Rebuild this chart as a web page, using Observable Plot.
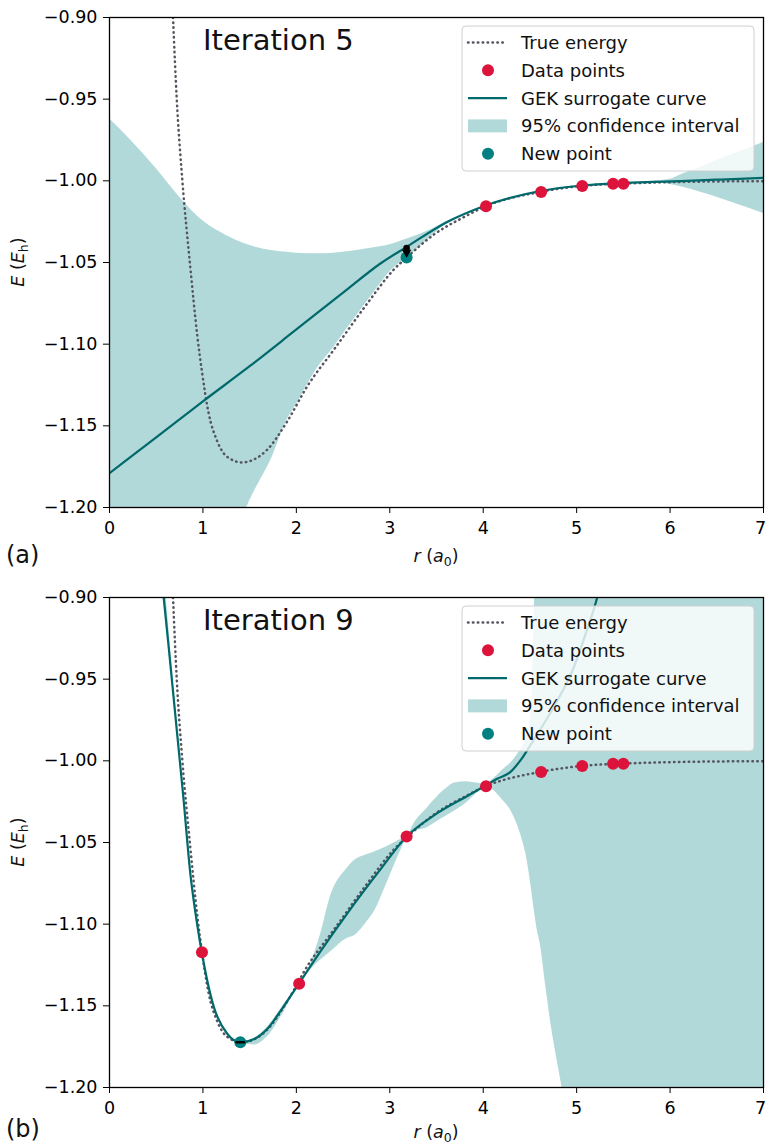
<!DOCTYPE html>
<html><head><meta charset="utf-8">
<script src="https://cdn.jsdelivr.net/npm/d3@7"></script>
<script src="https://cdn.jsdelivr.net/npm/@observablehq/plot@0.6"></script>
<style>body{margin:0;background:#fff;} svg{display:block;}</style>
</head><body><div id="chart"></div>
<script>
// ---------- data ----------
const xTicks = [0, 1, 2, 3, 4, 5, 6, 7];
const yTicks = [-1.20, -1.15, -1.10, -1.05, -1.00, -0.95, -0.90];
const legendLabels = ["True energy", "Data points", "GEK surrogate curve", "95% confidence interval", "New point"];
const panelTitles = ["Iteration 5", "Iteration 9"];
const panelLabels = ["(a)", "(b)"];

// True energy (dotted), same in both panels
const trueR = [0.64, 0.68, 0.72, 0.78, 0.86, 0.94, 0.99, 1.06, 1.15, 1.26, 1.42, 1.55, 1.69, 1.90, 2.12, 2.40, 2.76, 3.04, 3.19, 3.47, 3.80, 4.03, 4.62, 5.06, 5.50, 6.00, 7.00];
const trueE = [-0.84, -0.90, -0.95, -1.00, -1.05, -1.095, -1.117, -1.142, -1.159, -1.169, -1.1724, -1.1705, -1.1645, -1.1475, -1.1255, -1.1035, -1.075, -1.0545, -1.0465, -1.033, -1.022, -1.0155, -1.0067, -1.0031, -1.0017, -1.0008, -1.0002];

// Panel (a): iteration 5
const gekA_R = [0, 0.5, 1.0, 1.5, 2.0, 2.5, 2.9, 3.17, 3.61, 4.02, 4.61, 5.04, 5.40, 5.50, 6.11, 6.50, 7.00];
const gekA_E = [-1.179, -1.157, -1.135, -1.1135, -1.091, -1.0685, -1.0506, -1.0408, -1.0253, -1.0152, -1.0062, -1.0030, -1.0015, -1.0013, -1.0002, -0.9993, -0.9982];
const bandA_R  = [0, 0.25, 0.5, 0.78, 1.0, 1.25, 1.47, 1.75, 1.90, 2.0, 2.12, 2.22, 2.40, 2.5, 2.76, 3.04, 3.19, 3.47, 3.60, 3.80, 4.03, 4.50, 5.00, 5.50, 5.80, 6.00, 6.14, 6.30, 6.50, 6.75, 7.00];
const bandA_hi = [-0.962, -0.9765, -0.9925, -1.012, -1.0245, -1.0335, -1.039, -1.0428, -1.0438, -1.0444, -1.0446, -1.0447, -1.0443, -1.0438, -1.0416, -1.0385, -1.0355, -1.029, -1.025, -1.0203, -1.0148, -1.0085, -1.0028, -1.0012, -1.0002, -0.999, -0.9957, -0.9925, -0.9876, -0.982, -0.9765];
const bandA_lo = [-1.38, -1.36, -1.33, -1.30, -1.27, -1.235, -1.20, -1.168, -1.1465, -1.137, -1.1245, -1.115, -1.102, -1.094, -1.0738, -1.0535, -1.0468, -1.0328, -1.0266, -1.021, -1.0156, -1.0089, -1.0034, -1.0018, -1.001, -1.0022, -1.004, -1.0065, -1.010, -1.015, -1.020];
const dataA_R = [4.03, 4.62, 5.06, 5.39, 5.50];
const dataA_E = [-1.0155, -1.0068, -1.0032, -1.0018, -1.0018];
const newA_R = [3.18];
const newA_E = [-1.047];
const markA_R = [3.18];
const markA_E = [-1.0412];
const markA_arrowE = [-1.0438];

// Panel (b): iteration 9
const gekB_R = [0.55, 0.58, 0.65, 0.72, 0.79, 0.867, 0.938, 0.99, 1.117, 1.26, 1.40, 1.55, 1.688, 1.85, 2.027, 2.26, 2.544, 2.90, 3.18, 3.47, 3.83, 4.025, 4.15, 4.29, 4.42, 4.54, 4.755, 4.97, 5.11, 5.22, 5.30];
const gekB_E = [-0.885, -0.900, -0.940, -0.981, -1.022, -1.070, -1.100, -1.118, -1.1508, -1.1671, -1.1723, -1.1703, -1.1642, -1.1515, -1.1365, -1.1165, -1.0935, -1.0665, -1.0463, -1.0335, -1.0215, -1.0151, -1.011, -1.0069, -0.998, -0.9873, -0.967, -0.9427, -0.920, -0.900, -0.880];
const bandB_R  = [0.55, 0.58, 0.62, 0.66, 0.72, 0.79, 0.87, 0.99, 1.12, 1.26, 1.40, 1.55, 1.69, 1.85, 2.03, 2.13, 2.26, 2.365, 2.544, 2.615, 2.758, 2.829, 2.972, 3.115, 3.19, 3.257, 3.40, 3.47, 3.614, 3.685, 3.828, 3.864, 3.95, 4.03, 4.10, 4.20, 4.30, 4.40, 4.47, 4.52, 4.55, 4.58, 4.61, 4.67, 4.73, 4.79, 4.84, 4.90, 5.00, 5.50, 6.00, 7.00];
const bandB_hi = [-0.865, -0.882, -0.908, -0.936, -0.976, -1.020, -1.070, -1.117, -1.150, -1.1665, -1.1721, -1.1698, -1.163, -1.1505, -1.136, -1.127, -1.106, -1.083, -1.0657, -1.0613, -1.0574, -1.0559, -1.0525, -1.0482, -1.046, -1.0386, -1.029, -1.0243, -1.0165, -1.0137, -1.0128, -1.0131, -1.0138, -1.015, -1.0115, -1.006, -1.001, -0.993, -0.985, -0.965, -0.90, -0.82, -0.75, -0.70, -0.65, -0.60, -0.55, -0.50, -0.45, -0.30, -0.20, 0.0];
const bandB_lo = [-0.888, -0.903, -0.925, -0.947, -0.982, -1.023, -1.072, -1.119, -1.152, -1.1675, -1.1725, -1.174, -1.169, -1.1555, -1.137, -1.1295, -1.122, -1.117, -1.1087, -1.1073, -1.0984, -1.0929, -1.0745, -1.0552, -1.0466, -1.0435, -1.041, -1.0385, -1.0335, -1.031, -1.0253, -1.0235, -1.019, -1.0152, -1.0175, -1.0235, -1.031, -1.045, -1.061, -1.080, -1.093, -1.104, -1.112, -1.138, -1.163, -1.183, -1.199, -1.225, -1.26, -1.45, -1.65, -2.0];
const dataB_R = [0.99, 2.03, 3.18, 4.03, 4.62, 5.06, 5.39, 5.50];
const dataB_E = [-1.1172, -1.1365, -1.0463, -1.0155, -1.0068, -1.0032, -1.0018, -1.0018];
const newB_R = [1.40];
const newB_E = [-1.1723];
const markB_R = [1.36, 1.44];
const markB_E = [-1.1723, -1.1723];

// ---------- styles ----------
const FF = "DejaVu Sans";
const C = {dot: "#555560", gek: "#00696b", teal: "#008080", red: "crimson"};
const rows = (xs, ys) => xs.map((x, i) => ({x, y: ys[i]}));
const bandRows = (xs, lo, hi) => xs.map((x, i) => ({x, lo: lo[i], hi: hi[i]}));
const dotted = {stroke: C.dot, strokeWidth: 2.5, strokeDasharray: "0.5,4.4", strokeLinecap: "round"};

function panel({height, top, bottom, band, gek, data, neu, extra}) {
  return Plot.plot({
    width: 766, height,
    marginLeft: 109, marginRight: 3, marginTop: top, marginBottom: bottom,
    style: {fontFamily: FF, fontSize: "17.5px", color: "black", background: "white", overflow: "visible"},
    x: {domain: [0, 7], ticks: xTicks, tickFormat: "d", tickSize: 6, tickPadding: 8, label: null},
    y: {domain: [-1.2, -0.9], ticks: yTicks, tickFormat: d3.format(".2f"), tickSize: 6, tickPadding: 6, label: null},
    marks: [
      Plot.areaY(band, {x: "x", y1: "lo", y2: "hi", fill: C.teal, fillOpacity: 0.3, curve: "monotone-x", clip: true}),
      Plot.line(rows(trueR, trueE), {x: "x", y: "y", ...dotted, curve: "monotone-x", clip: true}),
      Plot.line(gek, {x: "x", y: "y", stroke: C.gek, strokeWidth: 2.2, curve: "monotone-x", clip: true}),
      Plot.dot(data, {x: "x", y: "y", r: 6, fill: C.red, stroke: null}),
      Plot.dot(neu, {x: "x", y: "y", r: 6, fill: C.teal, stroke: null}),
      ...extra,
      Plot.frame({stroke: "black", strokeWidth: 1.3})
    ]
  });
}

function decorate(svg, {title, top, xLabelY, panelLabel, panelY, yLabelCY}) {
  const s = d3.select(svg);
  // keep the last x tick label ("7") inside the page
  s.selectAll('g[aria-label="x-axis tick label"] text')
    .filter(function () { return this.textContent === "7"; })
    .attr("dx", -3);
  s.append("text").attr("x", 203).attr("y", top + 33).attr("text-anchor", "start")
    .attr("font-family", FF).attr("font-size", 29).attr("fill", "#111").text(title);
  // x label r (a0)
  const xl = s.append("text").attr("x", 436).attr("y", xLabelY).attr("text-anchor", "middle")
    .attr("font-family", FF).attr("font-size", 17.5).attr("fill", "#111");
  xl.append("tspan").attr("font-style", "italic").text("r");
  xl.append("tspan").text(" (");
  xl.append("tspan").attr("font-style", "italic").text("a");
  xl.append("tspan").attr("font-size", 12.5).attr("dy", 4).text("0");
  xl.append("tspan").attr("dy", -4).text(")");
  // y label E (Eh)
  const yl = s.append("text").attr("transform", `translate(24,${yLabelCY}) rotate(-90)`).attr("text-anchor", "middle")
    .attr("font-family", FF).attr("font-size", 17.5).attr("fill", "#111");
  yl.append("tspan").attr("font-style", "italic").text("E");
  yl.append("tspan").text(" (");
  yl.append("tspan").attr("font-style", "italic").text("E");
  yl.append("tspan").attr("font-size", 12.5).attr("dy", 4).text("h");
  yl.append("tspan").attr("dy", -4).text(")");
  // panel label
  s.append("text").attr("x", 6).attr("y", panelY).attr("text-anchor", "start")
    .attr("font-family", FF).attr("font-size", 24).attr("fill", "#111").text(panelLabel);
  // legend
  const g = s.append("g").attr("transform", `translate(462,${top + 9})`);
  g.append("rect").attr("width", 292).attr("height", 145).attr("rx", 4)
    .attr("fill", "white").attr("fill-opacity", 0.8).attr("stroke", "#d0d0d0").attr("stroke-width", 1);
  legendLabels.forEach((lab, i) => {
    const cy = 16.5 + i * 27.8;
    if (i === 0) g.append("line").attr("x1", 6).attr("x2", 45).attr("y1", cy).attr("y2", cy)
      .attr("stroke", C.dot).attr("stroke-width", 2.5).attr("stroke-dasharray", "0.5,4.4").attr("stroke-linecap", "round");
    if (i === 1) g.append("circle").attr("cx", 26).attr("cy", cy).attr("r", 6).attr("fill", C.red);
    if (i === 2) g.append("line").attr("x1", 6).attr("x2", 45).attr("y1", cy).attr("y2", cy).attr("stroke", C.gek).attr("stroke-width", 2.2);
    if (i === 3) g.append("rect").attr("x", 6).attr("y", cy - 6.5).attr("width", 39).attr("height", 13).attr("fill", C.teal).attr("fill-opacity", 0.3);
    if (i === 4) g.append("circle").attr("cx", 26).attr("cy", cy).attr("r", 6).attr("fill", C.teal);
    g.append("text").attr("x", 59).attr("y", cy).attr("dy", "0.36em").attr("text-anchor", "start")
      .attr("font-family", FF).attr("font-size", 18).attr("fill", "#111").text(lab);
  });
}

const root = document.getElementById("chart");

const svgA = panel({
  height: 570, top: 17, bottom: 63,
  band: bandRows(bandA_R, bandA_lo, bandA_hi),
  gek: rows(gekA_R, gekA_E),
  data: rows(dataA_R, dataA_E),
  neu: rows(newA_R, newA_E),
  extra: [
    Plot.dot(rows(markA_R, markA_arrowE), {x: "x", y: "y", symbol: "triangle", rotate: 180, r: 3.5, fill: "black", stroke: null}),
    Plot.dot(rows(markA_R, markA_E), {x: "x", y: "y", r: 3.3, fill: "black", stroke: null})
  ]
});
decorate(svgA, {title: panelTitles[0], top: 17, xLabelY: 562, panelLabel: panelLabels[0], panelY: 563, yLabelCY: 262});
root.appendChild(svgA);

const svgB = panel({
  height: 573, top: 27, bottom: 56,
  band: bandRows(bandB_R, bandB_lo, bandB_hi),
  gek: rows(gekB_R, gekB_E),
  data: rows(dataB_R, dataB_E),
  neu: rows(newB_R, newB_E),
  extra: [
    Plot.line(rows(markB_R, markB_E), {x: "x", y: "y", stroke: "black", strokeWidth: 2.5})
  ]
});
decorate(svgB, {title: panelTitles[1], top: 27, xLabelY: 568, panelLabel: panelLabels[1], panelY: 567, yLabelCY: 272});
root.appendChild(svgB);
</script></body></html>
